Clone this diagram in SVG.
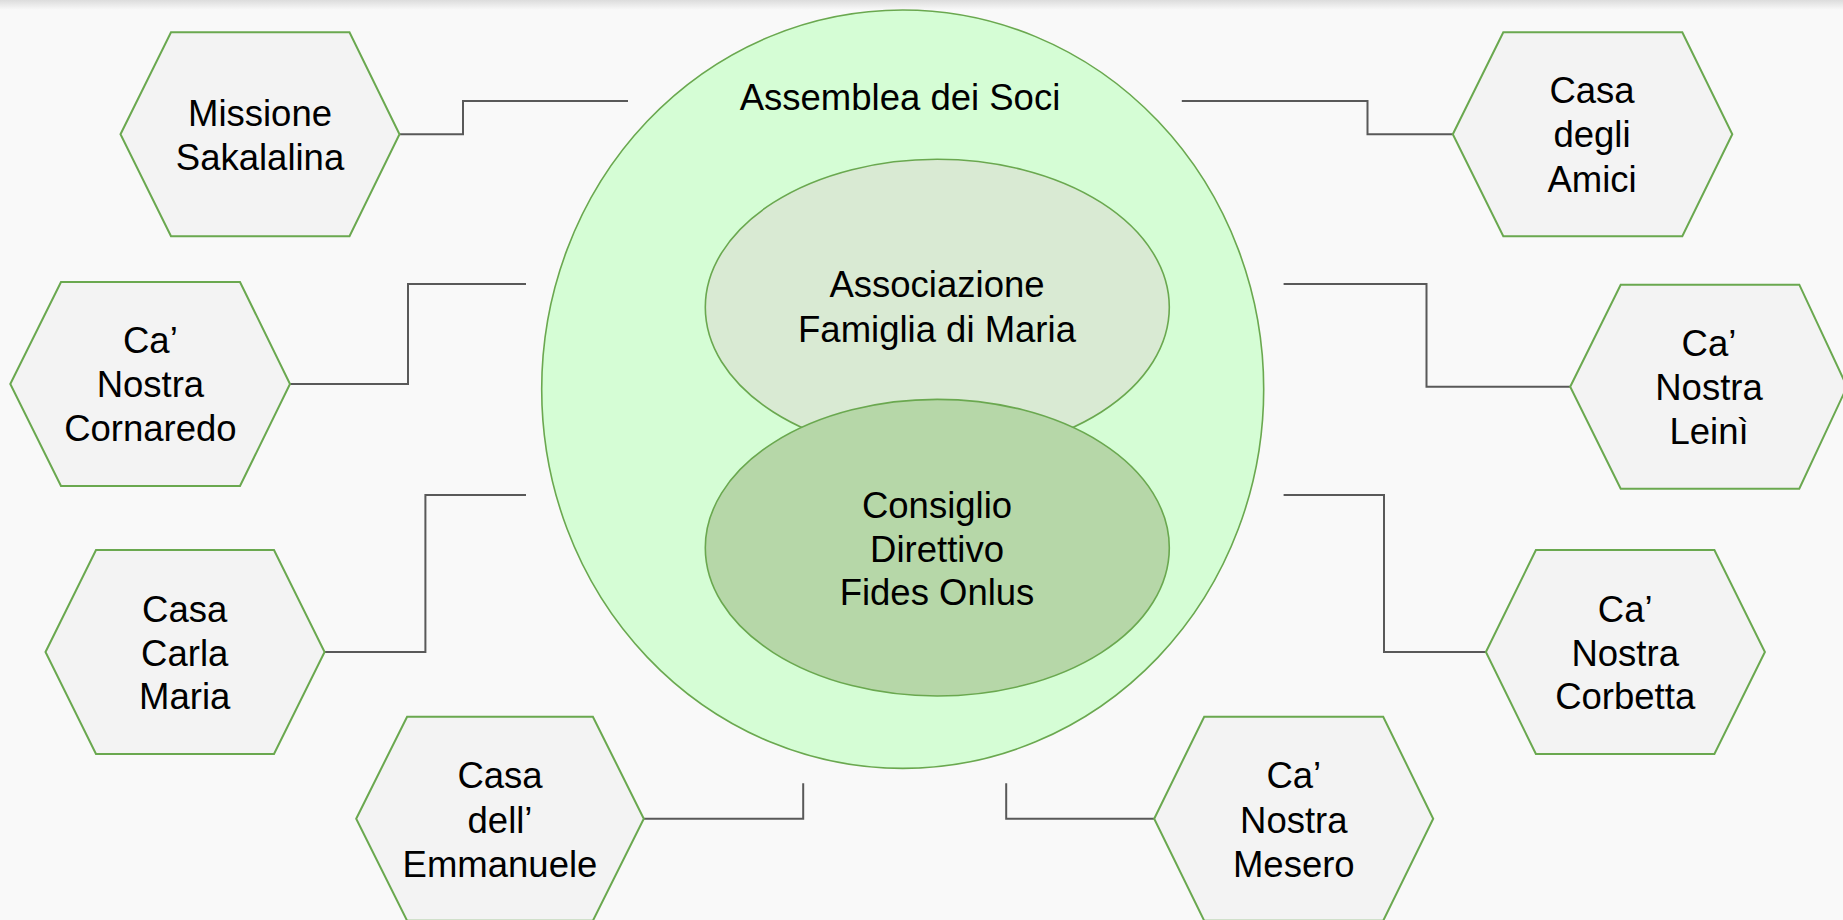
<svg xmlns="http://www.w3.org/2000/svg" width="1843" height="920" viewBox="0 0 1843 920">
<defs>
<linearGradient id="topShade" x1="0" y1="0" x2="0" y2="1">
<stop offset="0" stop-color="#dcdcdc"/>
<stop offset="1" stop-color="#f9f9f9"/>
</linearGradient>
</defs>
<style>
.hex{fill:#f3f3f3;stroke:#6aa84f;stroke-width:2;stroke-linejoin:miter}
.ell{stroke:#6aa84f;stroke-width:1.6}
.con{fill:none;stroke:#595959;stroke-width:2}
.t{font-family:"Liberation Sans",Arial,sans-serif;font-size:36.5px;fill:#000;text-anchor:middle}
</style>
<rect x="0" y="0" width="1843" height="920" fill="#f9f9f9"/>
<rect x="0" y="0" width="1843" height="10" fill="url(#topShade)"/>

<g id="connectors">
<polyline class="con" points="399.5,134.3 463,134.3 463,101 628,101"/>
<polyline class="con" points="290,384 408,384 408,284 526,284"/>
<polyline class="con" points="324.6,652 425.4,652 425.4,495 526,495"/>
<polyline class="con" points="643.8,818.7 803.2,818.7 803.2,783.3"/>
<polyline class="con" points="1452.8,134.3 1367.5,134.3 1367.5,101 1181.8,101"/>
<polyline class="con" points="1570.2,386.7 1426.5,386.7 1426.5,284 1283.6,284"/>
<polyline class="con" points="1485.9,652 1384,652 1384,495 1283.6,495"/>
<polyline class="con" points="1154.2,818.7 1006.2,818.7 1006.2,783.3"/>
</g>

<g id="assemblea">
<ellipse class="ell" cx="902.7" cy="389.2" rx="361" ry="379.2" fill="#d5fdd5"/>
<text class="t" x="900" y="110">Assemblea dei Soci</text>
</g>
<g id="associazione">
<ellipse class="ell" cx="937.3" cy="307.3" rx="232" ry="148" fill="#d9ead3"/>
<text class="t"><tspan x="937" y="296.7">Associazione</tspan><tspan x="937" y="341.7">Famiglia di Maria</tspan></text>
</g>
<g id="consiglio">
<ellipse class="ell" cx="937.3" cy="547.7" rx="232" ry="148.3" fill="#b6d7a8"/>
<text class="t"><tspan x="937" y="518.3">Consiglio</tspan><tspan x="937" y="561.7">Direttivo</tspan><tspan x="937" y="605">Fides Onlus</tspan></text>
</g>

<g id="missione">
<polygon class="hex" points="120.5,134.3 171,32.3 349.5,32.3 399.5,134.3 349.5,236.3 171,236.3"/>
<text class="t"><tspan x="260" y="126">Missione</tspan><tspan x="260" y="170">Sakalalina</tspan></text>
</g>
<g id="cornaredo">
<polygon class="hex" points="10.3,384 61,282 240,282 290,384 240,486 61,486"/>
<text class="t"><tspan x="150.4" y="352.7">Ca’</tspan><tspan x="150.4" y="397.3">Nostra</tspan><tspan x="150.4" y="440.7">Cornaredo</tspan></text>
</g>
<g id="carla">
<polygon class="hex" points="45.5,652 96,550 274,550 324.6,652 274,754 96,754"/>
<text class="t"><tspan x="184.7" y="621.7">Casa</tspan><tspan x="184.7" y="666">Carla</tspan><tspan x="184.7" y="709.3">Maria</tspan></text>
</g>
<g id="emmanuele">
<polygon class="hex" points="356.2,818.7 407.1,716.7 592.9,716.7 643.8,818.7 592.9,920.7 407.1,920.7"/>
<text class="t"><tspan x="500" y="788.3">Casa</tspan><tspan x="500" y="832.7">dell’</tspan><tspan x="500" y="876.7">Emmanuele</tspan></text>
</g>
<g id="amici">
<polygon class="hex" points="1452.8,134.3 1503.3,32.3 1682.3,32.3 1732.3,134.3 1682.3,236.3 1503.3,236.3"/>
<text class="t"><tspan x="1592" y="103.3">Casa</tspan><tspan x="1592" y="146.7">degli</tspan><tspan x="1592" y="191.7">Amici</tspan></text>
</g>
<g id="leini">
<polygon class="hex" points="1570.2,386.7 1620.7,284.7 1799.3,284.7 1847,386.7 1799.3,488.7 1620.7,488.7"/>
<text class="t"><tspan x="1709" y="356">Ca’</tspan><tspan x="1709" y="400">Nostra</tspan><tspan x="1709" y="444.3">Leinì</tspan></text>
</g>
<g id="corbetta">
<polygon class="hex" points="1485.9,652 1535.9,550 1714.4,550 1764.9,652 1714.4,754 1535.9,754"/>
<text class="t"><tspan x="1625.2" y="621.7">Ca’</tspan><tspan x="1625.2" y="666">Nostra</tspan><tspan x="1625.2" y="709.3">Corbetta</tspan></text>
</g>
<g id="mesero">
<polygon class="hex" points="1154.2,818.7 1204.2,716.7 1383.2,716.7 1433.2,818.7 1383.2,920.7 1204.2,920.7"/>
<text class="t"><tspan x="1293.8" y="788.3">Ca’</tspan><tspan x="1293.8" y="832.7">Nostra</tspan><tspan x="1293.8" y="876.7">Mesero</tspan></text>
</g>
</svg>
